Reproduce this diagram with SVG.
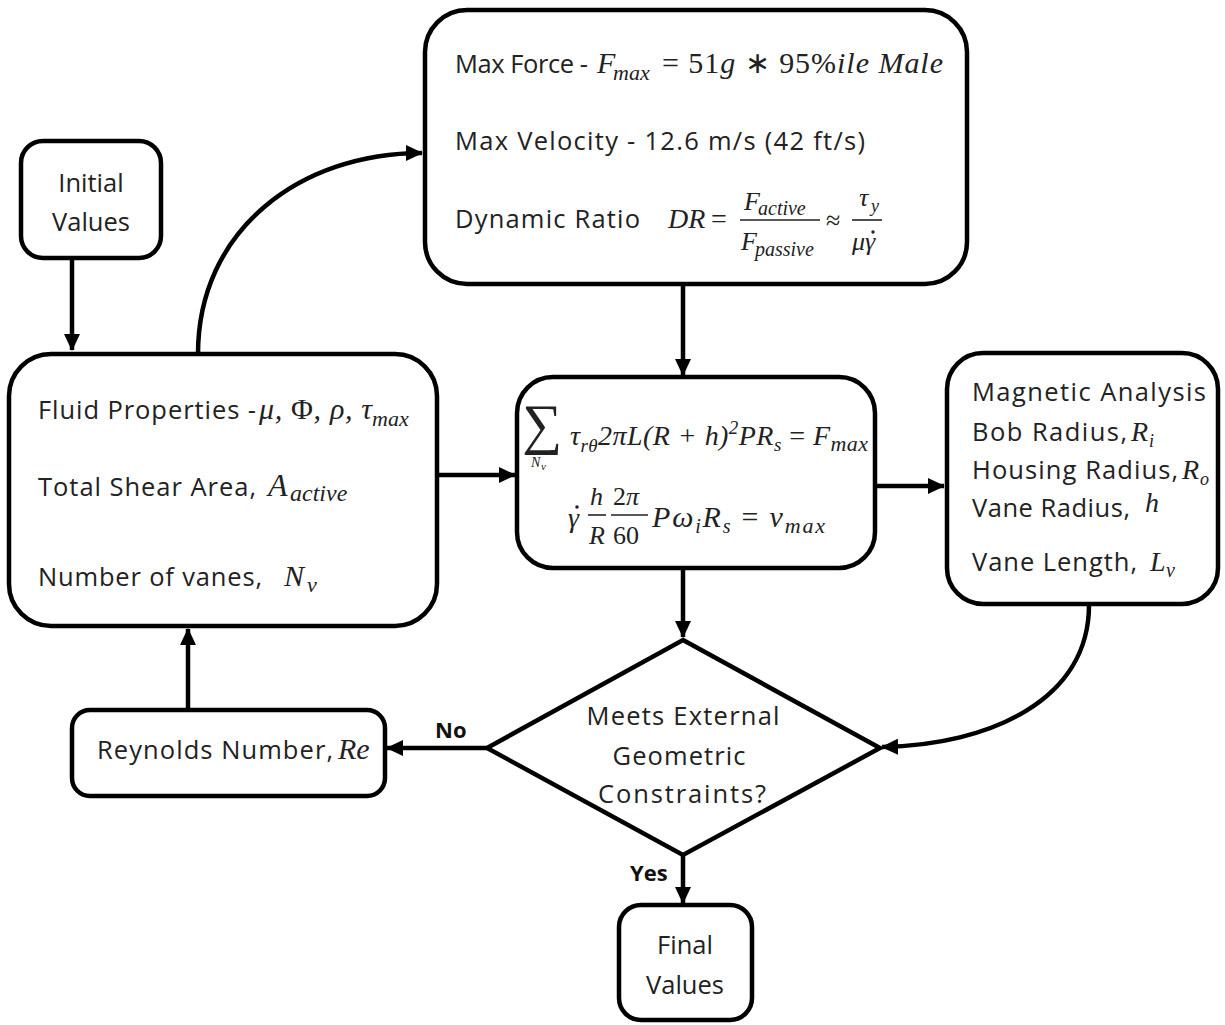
<svg xmlns="http://www.w3.org/2000/svg" width="1225" height="1025" viewBox="0 0 1225 1025">
<style>
.box{fill:#fff;stroke:#000;stroke-width:4.5}
.t{font-family:"Open Sans","Liberation Sans",Arial,sans-serif;font-size:25.5px;fill:#222}
.tc{font-family:"Open Sans","Liberation Sans",Arial,sans-serif;font-size:25.5px;fill:#222;text-anchor:middle}
.m{font-family:"Liberation Serif","Times New Roman",serif;font-style:italic;fill:#222}
.u{font-family:"Liberation Serif","Times New Roman",serif;fill:#222}
.b{font-family:"Open Sans","Liberation Sans",Arial,sans-serif;font-weight:bold;font-size:22px;fill:#111}
.c{fill:none;stroke:#000;stroke-width:4.5}
.bar{stroke:#222;stroke-width:1.6}
.dot{fill:#222}
</style>
<defs>
<marker id="ah" markerUnits="userSpaceOnUse" markerWidth="18" markerHeight="16" refX="16" refY="8" orient="auto">
<path d="M0,0 L17,8 L0,16 Z" fill="#000"/>
</marker>
</defs>
<g id="connectors">
<path class="c" d="M72,258 L72,350" marker-end="url(#ah)"/>
<path class="c" d="M198,354 C198,230 300,153 422,153" marker-end="url(#ah)"/>
<path class="c" d="M683,284 L683,375" marker-end="url(#ah)"/>
<path class="c" d="M437,475 L515,475" marker-end="url(#ah)"/>
<path class="c" d="M875,486 L944,486" marker-end="url(#ah)"/>
<path class="c" d="M683,568 L683,637" marker-end="url(#ah)"/>
<path class="c" d="M1089,605 C1089,700 990,745 882,747" marker-end="url(#ah)"/>
<path class="c" d="M487,748 L387,748" marker-end="url(#ah)"/>
<path class="c" d="M188,710 L188,629" marker-end="url(#ah)"/>
<path class="c" d="M683,855 L683,903" marker-end="url(#ah)"/>
<text class="b" x="435" y="738">No</text>
<text class="b" x="630" y="881">Yes</text>
</g>
<g id="initial">
<rect class="box" x="21" y="141" width="140" height="117" rx="22"/>
<text class="tc" x="91" y="192">Initial</text>
<text class="tc" x="91" y="231">Values</text>
</g>
<g id="params">
<rect class="box" x="425" y="10" width="542" height="274" rx="42"/>
<text class="t" x="455" y="73" textLength="133">Max Force -</text>
<text class="m" x="597" y="73" font-size="30">F</text>
<text class="m" x="613" y="80" font-size="22">max</text>
<text class="u" x="662" y="73" font-size="30" textLength="281">= 51<tspan font-style="italic">g</tspan> ∗ 95%<tspan font-style="italic">ile Male</tspan></text>
<text class="t" x="455" y="150" textLength="410">Max Velocity - 12.6 m/s (42 ft/s)</text>
<text class="t" x="455" y="228" textLength="185">Dynamic Ratio</text>
<text class="m" x="668" y="228" font-size="28">DR</text>
<text class="u" x="711" y="228" font-size="28">=</text>
<text class="m" x="744" y="210" font-size="26">F</text>
<text class="m" x="758" y="215" font-size="20">active</text>
<line class="bar" x1="740" y1="220" x2="820" y2="220"/>
<text class="m" x="741" y="250" font-size="26">F</text>
<text class="m" x="755" y="256" font-size="20">passive</text>
<text class="u" x="826" y="229" font-size="26">≈</text>
<text class="m" x="859" y="206" font-size="26">τ</text>
<text class="m" x="871" y="212" font-size="18">y</text>
<line class="bar" x1="852" y1="220" x2="882" y2="220"/>
<text class="m" x="852" y="250" font-size="26">μγ</text>
<circle class="dot" cx="873" cy="232" r="1.7"/>
</g>
<g id="fluid">
<rect class="box" x="9" y="354" width="428" height="272" rx="42"/>
<text class="t" x="38" y="419" textLength="218">Fluid Properties -</text>
<text class="m" x="259" y="419" font-size="30" textLength="113">μ, <tspan font-style="normal">Φ</tspan>, ρ, τ</text>
<text class="m" x="372" y="426" font-size="22">max</text>
<text class="t" x="38" y="496" textLength="218">Total Shear Area,</text>
<text class="m" x="268" y="496" font-size="32">A</text>
<text class="m" x="290" y="501" font-size="24">active</text>
<text class="t" x="38" y="586" textLength="224">Number of vanes,</text>
<text class="m" x="284" y="586" font-size="30">N</text>
<text class="m" x="307" y="592" font-size="22">v</text>
</g>
<g id="equations">
<rect class="box" x="517" y="377" width="358" height="191" rx="36"/>
<text class="u" x="522" y="443" font-size="56">∑</text>
<text class="m" x="531" y="467" font-size="14">N</text>
<text class="m" x="541" y="470" font-size="11">v</text>
<text class="m" x="570" y="445" font-size="28" textLength="298">τ<tspan font-size="19" dy="7">rθ</tspan><tspan dy="-7">2πL(R + h)</tspan><tspan font-size="19" dy="-11">2</tspan><tspan dy="11">PR</tspan><tspan font-size="19" dy="6">s</tspan><tspan dy="-6" font-style="normal"> = </tspan><tspan>F</tspan><tspan font-size="22" dy="6">max</tspan></text>
<text class="m" x="568" y="527" font-size="28">γ</text>
<circle class="dot" cx="577" cy="507" r="1.8"/>
<text class="m" x="590" y="505" font-size="26">h</text>
<line class="bar" x1="588" y1="515" x2="606" y2="515"/>
<text class="m" x="589" y="544" font-size="26">R</text>
<text class="u" x="613" y="505" font-size="26">2<tspan font-style="italic">π</tspan></text>
<line class="bar" x1="611" y1="515" x2="648" y2="515"/>
<text class="u" x="613" y="544" font-size="26">60</text>
<text class="m" x="652" y="527" font-size="30" textLength="173">Pω<tspan font-size="20" dy="6">i</tspan><tspan dy="-6">R</tspan><tspan font-size="20" dy="6">s</tspan><tspan dy="-6" font-style="normal"> = </tspan><tspan>v</tspan><tspan font-size="22" dy="6">max</tspan></text>
</g>
<g id="magnetic">
<rect class="box" x="947" y="353" width="271" height="251" rx="36"/>
<text class="t" x="972" y="401" textLength="234">Magnetic Analysis</text>
<text class="t" x="972" y="441" textLength="155">Bob Radius,</text>
<text class="m" x="1131" y="441" font-size="28">R</text>
<text class="m" x="1149" y="447" font-size="18">i</text>
<text class="t" x="972" y="479" textLength="206">Housing Radius,</text>
<text class="m" x="1182" y="479" font-size="28">R</text>
<text class="m" x="1200" y="485" font-size="18">o</text>
<text class="t" x="972" y="517" textLength="158">Vane Radius,</text>
<text class="m" x="1145" y="512" font-size="28">h</text>
<text class="t" x="972" y="571" textLength="165">Vane Length,</text>
<text class="m" x="1150" y="571" font-size="28">L</text>
<text class="m" x="1166" y="577" font-size="20">v</text>
</g>
<g id="decision">
<path class="box" d="M683,640 L880,748 L683,855 L487,748 Z"/>
<text class="tc" x="683" y="725" textLength="193">Meets External</text>
<text class="tc" x="679" y="765" textLength="133">Geometric</text>
<text class="tc" x="682" y="803" textLength="168">Constraints?</text>
</g>
<g id="reynolds">
<rect class="box" x="72" y="710" width="313" height="86" rx="18"/>
<text class="t" x="97" y="759" textLength="236">Reynolds Number,</text>
<text class="m" x="338" y="759" font-size="30">Re</text>
</g>
<g id="final">
<rect class="box" x="619" y="905" width="133" height="115" rx="22"/>
<text class="tc" x="685" y="954">Final</text>
<text class="tc" x="685" y="994">Values</text>
</g>
</svg>
